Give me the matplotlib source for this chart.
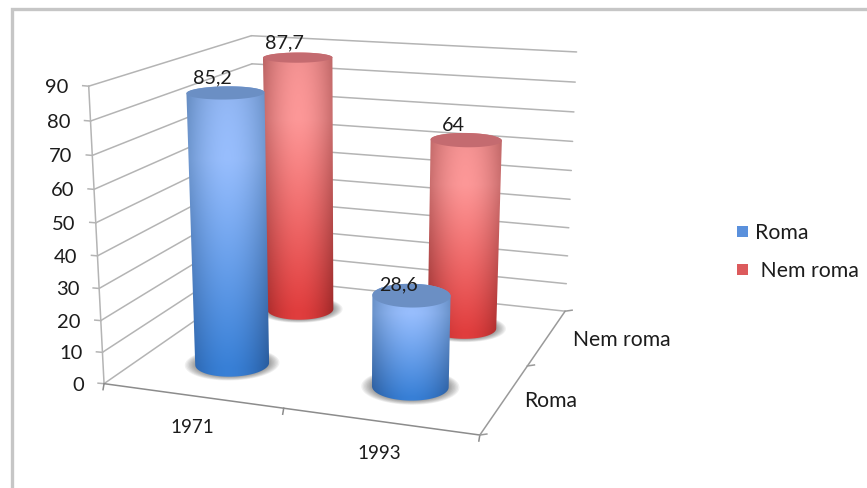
import numpy as np
import matplotlib
matplotlib.use("Agg")
import matplotlib.pyplot as plt
from matplotlib.patches import Polygon, Patch

years = ["1971", "1993"]
series = ["Roma", "Nem roma"]
roma = [85.2, 28.6]
nem_roma = [87.7, 64]
value_ticks = list(range(0, 100, 10))
value_labels = {85.2: "85,2", 87.7: "87,7", 28.6: "28,6", 64: "64"}

plt.rcParams['font.family'] = ['Lato', 'DejaVu Sans']
TXT = '#1c1c1c'
GRID = '#b4b4b4'

fig = plt.figure(figsize=(8.67, 4.88), dpi=100, facecolor='white')
ax = fig.add_axes([0, 0, 1, 1])
ax.set_xlim(0, 867)
ax.set_ylim(488, 0)
ax.axis('off')

# camera calibrated on the plot box: (category, depth, value/90) -> figure pixel
_cal = [((0, 0, 0), (103, 384)), ((0, 0, 1), (90, 87)), ((0, 2, 0), (258, 278)),
        ((0, 2, 1), (250, 35)), ((2, 2, 0), (563, 312)), ((2, 2, 1), (577, 52)),
        ((2, 0, 0), (480, 434)), ((1, 0, 0), (282, 408)), ((2, 1, 0), (530, 366))]
A, b = [], []
for (X, Y, Z), (u, v) in _cal:
    A.append([X, Y, Z, 1, 0, 0, 0, 0, -u * X, -u * Y, -u * Z]); b.append(u)
    A.append([0, 0, 0, 0, X, Y, Z, 1, -v * X, -v * Y, -v * Z]); b.append(v)
p = np.linalg.lstsq(np.array(A, float), np.array(b, float), rcond=None)[0]
P = np.append(p, 1).reshape(3, 4)


def proj(X, Y, value):
    X, Y, Z = np.broadcast_arrays(np.asarray(X, float), np.asarray(Y, float), np.asarray(value, float) / 90)
    w = P[2, 0] * X + P[2, 1] * Y + P[2, 2] * Z + P[2, 3]
    u = (P[0, 0] * X + P[0, 1] * Y + P[0, 2] * Z + P[0, 3]) / w
    v = (P[1, 0] * X + P[1, 1] * Y + P[1, 2] * Z + P[1, 3]) / w
    return u, v


def line(a, c, color=GRID, lw=1.1, z=1):
    ua, va = proj(*a)
    uc, vc = proj(*c)
    ax.plot([ua, uc], [va, vc], color=color, lw=lw, zorder=z, solid_capstyle='round')


# gridlines
for v in value_ticks:
    line((0, 0, v), (0, 2, v))
    line((0, 2, v), (2, 2, v))
    u0, v0 = proj(0, 0, v)
    ax.plot([u0 - 6, u0], [v0 - 0.5, v0], color=GRID, lw=1.1, zorder=1)
    ax.text(u0 - 20, v0 + 1.5, str(v), ha='right', va='center', fontsize=14.5, color=TXT)
line((0, 0, 0), (0, 0, 90))
line((0, 0, 0), (2, 0, 0), color='#8c8c8c')
line((2, 0, 0), (2, 2, 0), color='#9a9a9a')
for X in (0, 1, 2):
    u0, v0 = proj(X, 0, 0)
    ax.plot([u0, u0 - 1], [v0, v0 + 6], color='#8c8c8c', lw=1.1, zorder=1)
for Y in (0, 1, 2):
    u0, v0 = proj(2, Y, 0)
    ax.plot([u0, u0 + 7], [v0, v0 - 1], color='#9a9a9a', lw=1.1, zorder=1)

# axis category labels
for i, y in enumerate(years):
    u0, v0 = proj(i + 0.5, 0, 0)
    ax.text(u0, v0 + 32, y, ha='center', va='center', fontsize=13.5, color=TXT)
for i, (s, dx) in enumerate(zip(series, (19, 26))):
    u0, v0 = proj(2, i + 0.5, 0)
    ax.text(u0 + dx, v0 + 3, s, ha='left', va='center', fontsize=15.2, color=TXT)

# figure frame (top and left only, the rest is cut away in the reference)
ax.plot([12, 12, 867], [488, 9, 9], color='#c6c6c6', lw=2.4, zorder=0, solid_joinstyle='miter')


def hull(pts):
    pts = sorted(set(map(tuple, pts)))
    def half(seq):
        out = []
        for q in seq:
            while len(out) > 1 and (out[-1][0] - out[-2][0]) * (q[1] - out[-2][1]) - (out[-1][1] - out[-2][1]) * (q[0] - out[-2][0]) <= 0:
                out.pop()
            out.append(q)
        return out[:-1]
    return half(pts) + half(pts[::-1])


RX, RY = 0.197, 0.2
th = np.linspace(0, 2 * np.pi, 121)
STYLE = {
    'blue': dict(ct=(0.60, 0.75, 1.00), cb=(0.22, 0.50, 0.84), et=(0.42, 0.58, 0.80), eb=(0.16, 0.36, 0.62), top=(0.42, 0.56, 0.77)),
    'red': dict(ct=(1.00, 0.60, 0.60), cb=(0.88, 0.24, 0.24), et=(0.78, 0.42, 0.42), eb=(0.62, 0.16, 0.16), top=(0.77, 0.42, 0.44)),
}
LABEL_DY = {85.2: -15, 87.7: -15, 64: -14, 28.6: -10}


def cylinder(X, Y, value, style, z):
    s = STYLE[style]
    cx = X + RX * np.cos(th)
    cy = Y + RY * np.sin(th)
    # soft floor shadow
    for k in np.linspace(1.28, 1.02, 8):
        us, vs = proj(X + RX * k * np.cos(th), Y + RY * k * np.sin(th), 0)
        ax.add_patch(Polygon(np.c_[us, vs], closed=True, fc='#303030', ec='none', alpha=0.07, zorder=z))
    ub, vb = proj(cx, cy, 0)
    ut, vt = proj(cx, cy, value)
    outline = hull(np.r_[np.c_[ub, vb], np.c_[ut, vt]])
    x0, x1 = min(ub.min(), ut.min()), max(ub.max(), ut.max())
    y0, y1 = min(vb.min(), vt.min()), max(vb.max(), vt.max())
    ny, nx = 160, 100
    yy, xx = np.mgrid[0:1:ny * 1j, 0:1:nx * 1j]
    t = np.abs(2 * xx - 1) ** 1.9
    vert = np.clip((yy - 0.25) / 0.72, 0, 1)[..., None]
    center = (1 - vert) * np.array(s['ct']) + vert * np.array(s['cb'])
    edge = (1 - vert) * np.array(s['et']) + vert * np.array(s['eb'])
    img = (1 - t[..., None]) * center + t[..., None] * edge
    img = img * (1 - 0.07 * np.exp(-yy / 0.12))[..., None]
    im = ax.imshow(img, extent=(x0, x1, y1, y0), aspect='auto', zorder=z + 0.1, interpolation='bilinear')
    clip = Polygon(outline, closed=True, transform=ax.transData, fc='none', ec='none')
    ax.add_patch(clip)
    im.set_clip_path(clip)
    ax.add_patch(Polygon(np.c_[ut, vt], closed=True, fc=s['top'], ec='none', zorder=z + 0.2))
    u0, v0 = proj(X, Y, value)
    ax.text(u0 - 13, v0 + LABEL_DY[value], value_labels[value], ha='center', va='center', fontsize=14.2, color=TXT, zorder=z + 0.3)


for i, v in enumerate(nem_roma):
    cylinder(i + 0.5, 1.5, v, 'red', 3 + i)
for i, v in enumerate(roma):
    cylinder(i + 0.5, 0.5, v, 'blue', 6 + i)

ax.set_xlim(0, 867)
ax.set_ylim(488, 0)

handles = [Patch(fc='#5a90dc', ec='none', label=series[0]), Patch(fc='#dc5a5c', ec='none', label=' ' + series[1])]
ax.legend(handles=handles, loc='center left', bbox_to_anchor=(737 / 867, 1 - 252 / 488), frameon=False,
          fontsize=15.3, labelcolor=TXT, handlelength=0.52, handleheight=0.47, handletextpad=0.33,
          labelspacing=0.85, borderpad=0, borderaxespad=0)

fig.savefig('out.png', dpi=100, facecolor='white')
